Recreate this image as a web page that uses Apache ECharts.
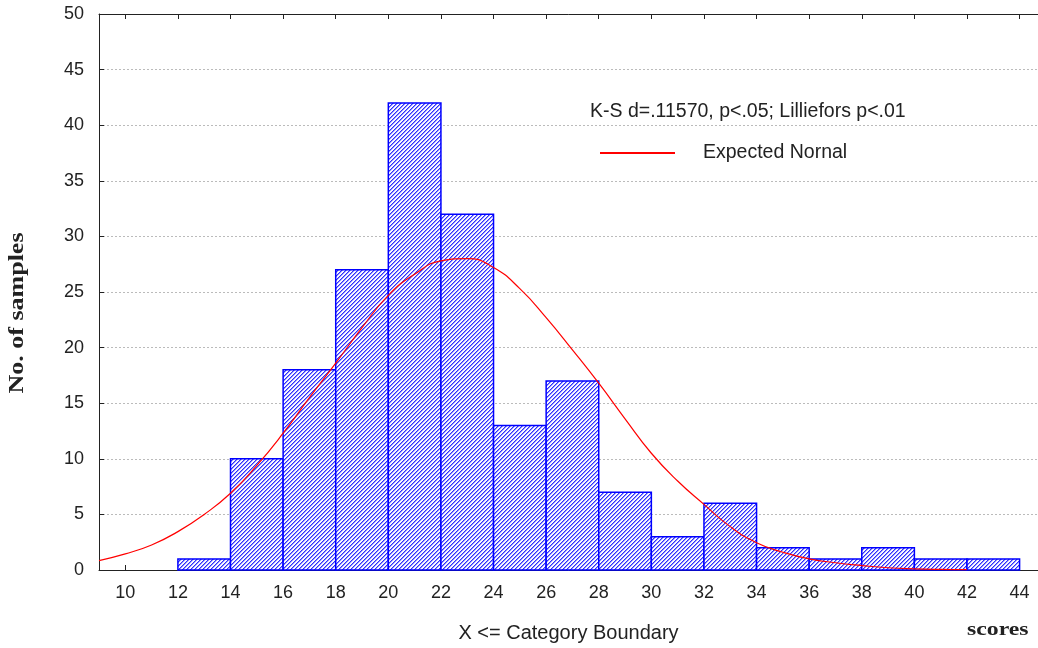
<!DOCTYPE html>
<html>
<head>
<meta charset="utf-8">
<script src="https://cdn.jsdelivr.net/npm/echarts@6/dist/echarts.min.js"></script>
<style>html,body{margin:0;padding:0;background:#fff}#c{width:1038px;height:648px}</style>
</head>
<body>
<div id="c"></div>
<script>
// ---- data ----
var binStarts = [12, 14, 16, 18, 20, 22, 24, 26, 28, 30, 32, 34, 36, 38, 40, 42];
var binEnds   = [14, 16, 18, 20, 22, 24, 26, 28, 30, 32, 34, 36, 38, 40, 42, 44];
var counts    = [1, 10, 18, 27, 42, 32, 13, 17, 7, 3, 6, 2, 1, 2, 1, 1];
var curveX = [9, 10, 11, 12, 13, 14, 15, 16, 17, 18, 19, 20, 21, 22, 23, 24, 25, 26, 27, 28, 29, 30, 31, 32, 33, 34, 35, 36, 37, 38, 39, 40, 41, 42];
var curveY = [0.85, 1.45, 2.25, 3.45, 5.0, 6.9, 9.4, 12.3, 15.5, 18.6, 21.8, 24.7, 26.6, 27.8, 28.0, 27.2, 25.3, 22.7, 19.8, 16.8, 13.6, 10.5, 8.0, 5.9, 3.9, 2.45, 1.6, 1.0, 0.65, 0.4, 0.2, 0.1, 0.05, 0.03];
var xTicks = [10, 12, 14, 16, 18, 20, 22, 24, 26, 28, 30, 32, 34, 36, 38, 40, 42, 44];
var statsText = 'K-S d=.11570, p<.05; Lilliefors p<.01';
var legendName = 'Expected Nornal';

// ---- hatch pattern ----
var pc = document.createElement('canvas');
pc.width = 4; pc.height = 4;
var pctx = pc.getContext('2d');
pctx.fillStyle = '#f8f8ff';
pctx.fillRect(0, 0, 4, 4);
for (var i = 0; i < 4; i++) {
  pctx.fillStyle = '#2e2eff';
  pctx.fillRect(i, 3 - i, 1, 1);
  pctx.fillStyle = '#9090ff';
  pctx.fillRect((i + 1) % 4, 3 - i, 1, 1);
}
var hatch = { image: pc, repeat: 'repeat' };

var bars = binStarts.map(function (s, i) { return [s, binEnds[i], counts[i]]; });
var curve = curveX.map(function (x, i) { return [x, curveY[i]]; });

var chart = echarts.init(document.getElementById('c'), null, { renderer: 'canvas' });
var sans = 'Liberation Sans, Arial, sans-serif';
var serif = 'Liberation Serif, Times New Roman, serif';
chart.setOption({
  animation: false,
  backgroundColor: '#fff',
  grid: { left: 99, right: 0, top: 14, bottom: 76 },
  legend: {
    data: [legendName], left: 600, top: 143, padding: 0, itemWidth: 75, itemHeight: 2,
    icon: 'rect',
    textStyle: { fontFamily: sans, fontSize: 19.5, color: '#222', padding: [0, 0, 0, 23] }
  },
  xAxis: [{
    type: 'value', min: 9, max: 44.7, position: 'bottom',
    name: 'X <= Category Boundary', nameLocation: 'middle', nameGap: 53,
    nameTextStyle: { fontFamily: sans, fontSize: 20, color: '#222' },
    axisLine: { show: true, lineStyle: { color: '#222', width: 1 } },
    axisTick: { show: true, inside: true, length: 5, customValues: xTicks, lineStyle: { color: '#222' } },
    axisLabel: { customValues: xTicks, fontFamily: sans, fontSize: 18, color: '#222', margin: 14 },
    splitLine: { show: false }
  }, {
    type: 'value', min: 9, max: 44.7, position: 'top',
    axisLine: { show: true, lineStyle: { color: '#222', width: 1 } },
    axisTick: { show: true, inside: true, length: 5, customValues: xTicks, lineStyle: { color: '#222' } },
    axisLabel: { show: false },
    splitLine: { show: false }
  }],
  yAxis: {
    type: 'value', min: 0, max: 50, interval: 5,
    axisLine: { show: true, lineStyle: { color: '#222', width: 1 } },
    axisTick: { show: true, inside: true, length: 5, lineStyle: { color: '#222' } },
    axisLabel: { fontFamily: sans, fontSize: 18, color: '#222', margin: 15 },
    splitLine: { show: true, lineStyle: { color: '#bbb', type: [2, 2], width: 1 } }
  },
  graphic: [
    { type: 'text', x: 590, y: 112,
      style: { text: statsText, font: '19.5px ' + sans, fill: '#222', align: 'left', verticalAlign: 'middle' } },
    { type: 'text', x: 18, y: 313, rotation: Math.PI / 2, scaleX: 1.3,
      style: { text: 'No. of samples', font: 'bold 20px ' + serif, fill: '#222', align: 'center', verticalAlign: 'middle' } },
    { type: 'text', x: 967, y: 630, scaleX: 1.25,
      style: { text: 'scores', font: 'bold 19px ' + serif, fill: '#222', align: 'left', verticalAlign: 'middle' } }
  ],
  series: [{
    type: 'custom',
    name: 'hist',
    renderItem: function (params, api) {
      var p0 = api.coord([api.value(0), 0]);
      var p1 = api.coord([api.value(1), api.value(2)]);
      return {
        type: 'rect',
        shape: { x: p0[0], y: p1[1], width: p1[0] - p0[0], height: p0[1] - p1[1] },
        style: { fill: hatch, stroke: '#0000ff', lineWidth: 1.5 }
      };
    },
    encode: { x: [0, 1], y: 2 },
    data: bars,
    z: 2
  }, {
    type: 'line',
    name: legendName,
    data: curve,
    showSymbol: false,
    smooth: true,
    lineStyle: { color: '#ff0000', width: 1.2 },
    itemStyle: { color: '#ff0000' },
    z: 3
  }]
});
</script>
</body>
</html>
